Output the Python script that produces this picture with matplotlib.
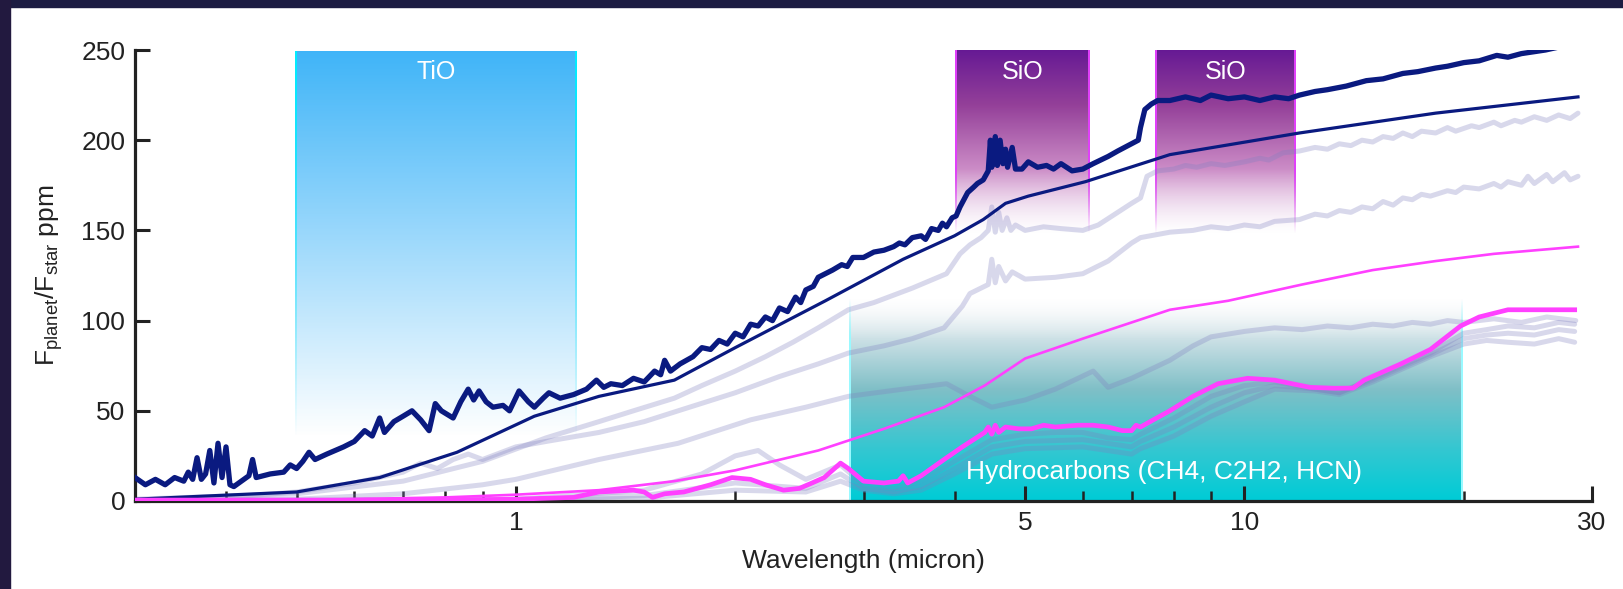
import matplotlib.pyplot as plt
import numpy as np
from matplotlib.patches import Rectangle

plt.rcParams['font.family'] = ['Liberation Sans', 'DejaVu Sans']
plt.rcParams['mathtext.default'] = 'regular'

# ---- data (wavelength in micron, ppm) ----
navy_wl = [0.30, 0.31, 0.32, 0.33, 0.34, 0.35, 0.355, 0.36, 0.365, 0.37, 0.375, 0.38, 0.385, 0.39, 0.395,
           0.40, 0.405, 0.41, 0.42, 0.43, 0.435, 0.44, 0.46, 0.48, 0.49, 0.50, 0.51, 0.52, 0.53, 0.55,
           0.58, 0.60, 0.62, 0.635, 0.65, 0.66, 0.68, 0.70, 0.72, 0.74, 0.76, 0.775, 0.79, 0.82, 0.84,
           0.86, 0.875, 0.89, 0.91, 0.93, 0.96, 0.98, 1.01, 1.04, 1.06, 1.09, 1.11, 1.15, 1.2, 1.25,
           1.29, 1.32, 1.35, 1.4, 1.45, 1.5, 1.55, 1.58, 1.6, 1.63, 1.68, 1.75, 1.8, 1.85, 1.9, 1.95,
           2.0, 2.05, 2.1, 2.15, 2.2, 2.25, 2.3, 2.36, 2.42, 2.46, 2.5, 2.56, 2.6, 2.66, 2.72, 2.8,
           2.85, 2.9, 3.0, 3.1, 3.2, 3.3, 3.36, 3.42, 3.5, 3.6, 3.65, 3.72, 3.8, 3.85, 3.9, 3.97,
           4.02, 4.07, 4.12, 4.17, 4.25, 4.3, 4.38, 4.45, 4.48, 4.50, 4.55, 4.58, 4.62,
           4.66, 4.70, 4.73, 4.80, 4.85, 4.95, 5.05, 5.2, 5.35, 5.47, 5.6, 5.8, 6.0, 6.2, 6.5, 6.7, 7.0,
           7.15, 7.2, 7.3, 7.45, 7.6, 7.9, 8.3, 8.7, 9.0, 9.5, 10, 10.5, 11, 11.5, 11.9, 12.5, 13,
           13.8, 14.7, 15.5, 16.5, 17.3, 18.3, 19, 20, 21, 22.2, 23, 24, 25.9, 28, 28.7]
navy_ppm = [13, 9, 12, 9, 13, 11, 16, 12, 24, 12, 15, 28, 10, 32, 13,
            30, 9, 8, 11, 14, 23, 13, 15, 16, 20, 18, 22, 27, 23, 26,
            30, 33, 39, 36, 46, 38, 44, 47, 50, 45, 39, 54, 50, 46, 55,
            62, 56, 61, 55, 52, 53, 50, 61, 55, 52, 57, 60, 57, 59, 62,
            67, 63, 65, 64, 68, 66, 72, 70, 78, 72, 76, 80, 85, 84, 89, 87,
            93, 91, 98, 97, 102, 100, 107, 105, 113, 110, 117, 119, 124, 126, 128, 131,
            130, 135, 135, 138, 139, 141, 143, 142, 146, 147, 145, 151, 150, 154, 152, 157,
            158, 163, 167, 171, 174, 176, 178, 183, 200, 185, 202, 186, 200,
            187, 195, 185, 196, 184, 184, 188, 185, 186, 184, 187, 183, 184, 187, 191, 194, 198,
            200, 207, 217, 220, 222, 222, 224, 222, 225, 223, 224, 222, 224, 223, 225, 227, 228,
            230, 233, 234, 237, 238, 240, 241, 243, 244, 247, 246, 248, 250, 253, 254]

navy_model_wl = [0.3, 0.5, 0.65, 0.83, 1.06, 1.3, 1.65, 2.0, 2.66, 3.4, 4.0, 4.38, 4.7, 5.05, 6.05,
                 7.9, 11.9, 18.3, 28.7]
navy_model_ppm = [1, 5, 13, 27, 47, 58, 67, 85, 111, 134, 147, 156, 165, 169, 177, 192, 204, 215, 224]

pink_model_wl = [0.3, 0.5, 0.8, 1.0, 1.3, 1.65, 2.0, 2.6, 3.2, 3.87, 4.4, 5.0, 6.0, 7.9, 9.5, 12,
                 15, 18.3, 22, 28.7]
pink_model_ppm = [0, 0.5, 2, 3.5, 6, 11, 17, 28, 40, 52, 64, 79, 90, 106, 111, 120, 128, 133, 137, 141]

pink_wl = [0.3, 0.8, 1.0, 1.2, 1.3, 1.45, 1.5, 1.54, 1.6, 1.7, 1.85, 1.98, 2.1, 2.2, 2.33, 2.45, 2.55,
           2.65, 2.79, 2.86, 3.0, 3.2, 3.35, 3.4, 3.45, 3.6, 3.87, 4.1, 4.4, 4.45, 4.5, 4.55, 4.6, 4.7,
           4.9, 5.1, 5.3, 5.5, 5.9, 6.2, 6.5, 6.8, 7.0, 7.1, 7.2, 7.5, 7.9, 8.5, 9.2, 10.1, 11, 12.3,
           13.3, 14.1, 14.6, 16.4, 18, 19.8, 21, 23, 25, 28.4]
pink_ppm = [0.5, 0.5, 1, 2, 5, 6, 5, 2, 4, 5, 9, 13, 12, 9, 6, 7, 10,
            13, 21, 18, 11, 10, 11, 14, 10, 14, 23, 30, 38, 41, 37, 42, 38, 41,
            40, 40, 42, 41, 42, 42, 41, 39, 39, 42, 41, 45, 50, 58, 65, 68, 67, 63,
            62.5, 62.6, 67, 76, 84, 97, 102, 106, 106, 106]

grey1_wl = [0.3, 0.5, 0.7, 0.9, 1.1, 1.3, 1.45, 1.65, 1.8, 2.0, 2.2, 2.4, 2.6, 2.86, 3.1, 3.5, 3.9,
            4.07, 4.2, 4.35, 4.45, 4.5, 4.55, 4.6, 4.65, 4.72, 4.78, 4.85, 5.0, 5.3, 5.6, 6.0, 6.3,
            6.7, 7.0, 7.2, 7.35, 7.6, 8, 8.3, 8.6, 9, 9.4, 10, 10.5, 10.8, 11.3, 11.9, 12.5, 13, 13.5,
            14, 14.5, 15, 15.5, 16, 16.5, 17, 17.5, 18.3, 19, 19.5, 20.5, 21, 22, 22.5, 23.5, 24, 25,
            26, 27, 28, 28.7]
grey1_ppm = [1, 4, 11, 22, 35, 44, 50, 57, 64, 72, 80, 88, 96, 106, 110, 118, 126,
             137, 142, 146, 150, 163, 149, 160, 150, 157, 150, 153, 150, 152, 151, 150, 153,
             160, 165, 168, 180, 183, 184, 186, 185, 187, 186, 188, 190, 189, 193, 194, 196, 195, 198,
             197, 200, 199, 202, 201, 204, 202, 205, 204, 207, 205, 208, 207, 210, 208, 211, 210, 213,
             211, 214, 212, 215]

grey2_wl = [0.3, 0.4, 0.5, 0.6, 0.7, 0.74, 0.78, 0.82, 0.86, 0.9, 1.0, 1.1, 1.3, 1.5, 1.67, 2.0, 2.3,
            2.6, 2.86, 3.2, 3.5, 3.87, 4.1, 4.2, 4.45, 4.5, 4.55, 4.6, 4.7, 4.8, 5.0, 5.5, 6.0, 6.5,
            7.0, 7.2, 7.9, 8.5, 9, 9.5, 10, 10.5, 11, 11.9, 12.5, 13, 13.5, 14, 14.5, 15, 15.5, 16,
            16.5, 17, 17.5, 18, 19, 19.5, 20, 21, 22, 22.5, 23, 24, 24.5, 25, 26, 26.5, 27.5, 28, 28.7]
grey2_ppm = [0, 2, 5, 10, 16, 21, 18, 23, 26, 23, 30, 33, 38, 44, 50, 60, 69,
             76, 82, 86, 90, 96, 108, 115, 120, 134, 121, 130, 122, 127, 123, 124, 126, 133,
             143, 146, 149, 150, 152, 151, 153, 152, 155, 156, 159, 158, 161, 160, 163, 162, 166, 164,
             168, 167, 170, 169, 172, 171, 174, 173, 176, 174, 177, 175, 180, 176, 181, 177, 182, 178, 180]

grey3_wl = [0.3, 0.5, 0.7, 0.9, 1.0, 1.3, 1.67, 2.1, 2.5, 2.86, 3.4, 3.9, 4.2, 4.5, 5.0, 5.5, 6.2,
            6.5, 7.0, 7.9, 8.5, 9.0, 10, 11, 12, 13, 14, 15, 16, 17, 18, 19, 20, 22, 24, 26, 28.5]
grey3_ppm = [0, 1, 4, 9, 12, 23, 32, 45, 52, 58, 62, 65, 58, 52, 56, 62, 72,
             63, 68, 78, 86, 91, 94, 96, 95, 97, 96, 98, 97, 99, 98, 100, 99, 101, 99, 102, 100]

grey4_wl = [0.3, 1.0, 1.5, 1.8, 2.0, 2.15, 2.3, 2.5, 2.79, 3.0, 3.3, 3.6, 4.0, 4.5, 5.0, 5.5, 6.0, 6.5,
            7.0, 7.2, 8, 9, 10, 11, 12.5, 13.5, 15, 18, 20, 21.5, 23, 25, 27, 28.4]
grey4_ppm = [0, 1, 6, 15, 25, 28, 20, 12, 20, 9, 7, 11, 22, 34, 37, 38, 38, 35,
             34, 37, 46, 58, 64, 66, 62, 60, 68, 82, 93, 95, 97, 96, 99, 98]
grey5_wl = [0.3, 1.0, 1.5, 2.0, 2.5, 2.79, 3.0, 3.3, 3.6, 4.0, 4.5, 5.0, 6.0, 7.0, 7.2, 8, 9, 10, 11,
            12.5, 13.5, 15, 18, 20, 21.5, 23, 25, 27, 28.4]
grey5_ppm = [0, 0.5, 3, 10, 7, 15, 7, 5, 8, 18, 30, 33, 34, 30, 33, 41, 52, 60, 64, 62, 60, 67, 81, 90,
             92, 93, 92, 95, 94]
grey6_wl = [0.3, 1.0, 1.5, 2.0, 2.5, 2.79, 3.0, 3.3, 3.6, 4.0, 4.5, 5.0, 6.0, 7.0, 7.2, 8, 9, 10, 11,
            12.5, 13.5, 15, 18, 20, 21.5, 23, 25, 27, 28.4]
grey6_ppm = [0, 0.5, 1.5, 6, 5, 11, 6, 4, 6, 15, 26, 29, 30, 26, 29, 36, 47, 55, 62, 61, 59, 66, 80,
             87, 89, 88, 87, 90, 88]

fig = plt.figure(figsize=(16.23, 5.89), dpi=100)
ax = fig.add_axes([135 / 1623, 1 - 501 / 589, (1592 - 135) / 1623, (501 - 50) / 589])

# dark frame of the slide
fig.patches.append(Rectangle((0, 1 - 7 / 589), 1, 7 / 589, transform=fig.transFigure,
                             color='#1c1c42', zorder=0))
fig.patches.append(Rectangle((0, 0), 9.5 / 1623, 1, transform=fig.transFigure,
                             color='#22193f', zorder=0))


def vgrad(stops, n=256):
    ys = np.linspace(1, 0, n)
    pos = [s[0] for s in stops]
    img = np.zeros((n, 1, 4))
    for c in range(4):
        img[:, 0, c] = np.interp(ys, pos, [s[1][c] for s in stops])
    return img


def band(x0, x1, y0, y1, stops, edge, ew=2.5):
    img = vgrad(stops)
    ax.imshow(img, extent=(x0, x1, y0, y1), aspect='auto', origin='upper',
              interpolation='bilinear', zorder=1)
    k = 10 ** (ew / 728.5)
    eimg = img.copy()
    eimg[:, 0, :3] = edge
    for xa, xb in [(x0, x0 * k), (x1 / k, x1)]:
        ax.imshow(eimg, extent=(xa, xb, y0, y1), aspect='auto', origin='upper',
                  interpolation='bilinear', zorder=1.1)


tio_stops = [(0, (0.247, 0.706, 0.976, 0.0)), (1, (0.247, 0.706, 0.976, 1.0))]
sio_stops = [(0, (0.93, 0.86, 0.94, 0.0)), (0.35, (0.80, 0.55, 0.78, 1.0)),
             (0.7, (0.58, 0.25, 0.60, 1.0)), (1, (0.40, 0.10, 0.58, 1.0))]
hc_stops = [(0, (0.0, 0.80, 0.84, 1.0)), (0.25, (0.20, 0.78, 0.82, 1.0)),
            (0.55, (0.50, 0.75, 0.78, 1.0)), (0.8, (0.80, 0.88, 0.90, 1.0)),
            (1, (0.95, 0.96, 0.97, 0.0))]

band(0.497, 1.213, 35, 250, tio_stops, (0.0, 0.93, 1.0))
band(4.0, 6.14, 148, 250, sio_stops, (0.88, 0.25, 0.98))
band(7.54, 11.8, 148, 250, sio_stops, (0.88, 0.25, 0.98))
band(2.87, 20.0, 0, 112, hc_stops, (0.6, 0.98, 1.0))

ax.text(np.sqrt(0.497 * 1.213), 238, 'TiO', color='white', fontsize=18, ha='center', va='center', zorder=6)
ax.text(np.sqrt(4.0 * 6.14), 238, 'SiO', color='white', fontsize=18, ha='center', va='center', zorder=6)
ax.text(np.sqrt(7.54 * 11.8), 238, 'SiO', color='white', fontsize=18, ha='center', va='center', zorder=6)
ax.text(7.76, 16, 'Hydrocarbons (CH4, C2H2, HCN)', color='white', fontsize=19,
        ha='center', va='center', zorder=6)

grey = '#7f7fc0'
for wl, pp in [(grey1_wl, grey1_ppm), (grey2_wl, grey2_ppm), (grey3_wl, grey3_ppm),
               (grey4_wl, grey4_ppm), (grey5_wl, grey5_ppm), (grey6_wl, grey6_ppm)]:
    ax.plot(wl, pp, color=grey, alpha=0.3, lw=3.6, solid_capstyle='round', zorder=2)

ax.plot(pink_model_wl, pink_model_ppm, color='#ff40ff', lw=1.9, zorder=3)
ax.plot(navy_model_wl, navy_model_ppm, color='#0a1a80', lw=2.3, zorder=3)
ax.plot(pink_wl, pink_ppm, color='#ff40ff', lw=3.4, zorder=4, solid_joinstyle='round')
ax.plot(navy_wl, navy_ppm, color='#0a1a80', lw=3.8, zorder=4, solid_joinstyle='round')

ax.set_xscale('log')
ax.set_xlim(0.3, 30)
ax.set_ylim(0, 250)
ax.set_xticks([1, 5, 10, 30])
ax.set_xticklabels(['1', '5', '10', '30'])
ax.set_xticks([0.4, 0.5, 0.6, 0.7, 0.8, 0.9, 2, 3, 4, 6, 7, 8, 9, 20], minor=True)
ax.xaxis.set_minor_formatter(plt.NullFormatter())
ax.set_yticks([0, 50, 100, 150, 200, 250])

for s in ['top', 'right']:
    ax.spines[s].set_visible(False)
for s in ['left', 'bottom']:
    ax.spines[s].set_linewidth(2.3)
    ax.spines[s].set_color('#222222')
ax.tick_params(which='major', direction='in', length=11, width=2.2, color='#222222',
               labelsize=19, labelcolor='#222222', pad=7)
ax.tick_params(which='minor', direction='in', length=7, width=1.8, color='#222222')

ax.set_xlabel('Wavelength (micron)', fontsize=19, color='#222222', labelpad=10)
ax.set_ylabel(r'F$_{planet}$/F$_{star}$ ppm', fontsize=19, color='#222222', labelpad=12)
ax.set_facecolor('white')

fig.savefig('out.png', dpi=100, facecolor='white')
